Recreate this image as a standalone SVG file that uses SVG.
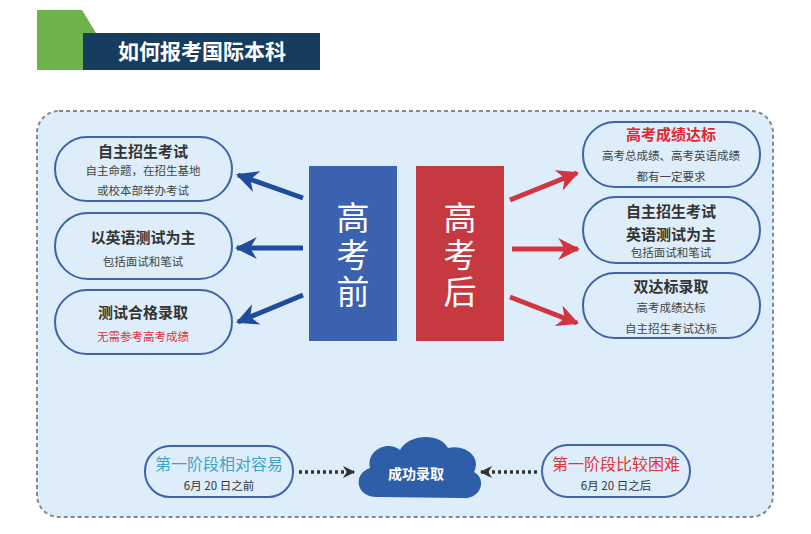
<svg xmlns="http://www.w3.org/2000/svg" width="811" height="534" viewBox="0 0 811 534">
<defs>
<style>
text{font-family:"Noto Sans CJK SC","Noto Sans",sans-serif;text-anchor:middle}
.pill{fill:#ddeefa;stroke:#3d63a8;stroke-width:2}
.t{font-size:15px;font-weight:bold;fill:#333}
.s{font-size:11.5px;fill:#444}
.big{font-size:33px;fill:#fff;writing-mode:vertical-rl;letter-spacing:4px}
.blu{stroke:#1f4d9c;stroke-width:5;fill:none}
.red{stroke:#d2353f;stroke-width:5;fill:none}
.dot{stroke:#333;stroke-width:3.5;stroke-dasharray:3 3;fill:none}
</style>
<marker id="ab" viewBox="0 0 10 10" refX="9" refY="5" markerWidth="4.4" markerHeight="4.4" orient="auto"><path d="M0,0 L10,5 L0,10 L3,5 Z" fill="#1f4d9c"/></marker>
<marker id="ar" viewBox="0 0 10 10" refX="9" refY="5" markerWidth="4.4" markerHeight="4.4" orient="auto"><path d="M0,0 L10,5 L0,10 L3,5 Z" fill="#d2353f"/></marker>
<marker id="ad" viewBox="0 0 10 10" refX="9" refY="5" markerWidth="5" markerHeight="3.5" orient="auto"><path d="M0,0 L10,5 L0,10 L3,5 Z" fill="#333"/></marker>
</defs>
<rect width="811" height="534" fill="#fff"/>
<g id="title">
<path d="M37,10 L82,10 L96,33 L96,70 L37,70 Z" fill="#6db24b"/>
<rect x="83" y="33" width="237" height="37" fill="#163d60"/>
<text x="202" y="59" style="font-size:21px;font-weight:bold;fill:#fff">如何报考国际本科</text>
</g>
<g id="panel">
<rect x="37" y="111" width="736" height="406" rx="22" fill="#ddeefa" stroke="#7f8a96" stroke-width="2" stroke-dasharray="4 3"/>
</g>
<g id="connectors">
<line class="blu" x1="303" y1="198" x2="238" y2="175" marker-end="url(#ab)"/>
<line class="blu" x1="303" y1="248" x2="237" y2="248" marker-end="url(#ab)"/>
<line class="blu" x1="303" y1="295" x2="238" y2="322" marker-end="url(#ab)"/>
<line class="red" x1="510" y1="200" x2="577" y2="173" marker-end="url(#ar)"/>
<line class="red" x1="512" y1="249" x2="578" y2="249" marker-end="url(#ar)"/>
<line class="red" x1="510" y1="297" x2="577" y2="323" marker-end="url(#ar)"/>
<line class="dot" x1="299" y1="472" x2="354" y2="472" marker-end="url(#ad)"/>
<line class="dot" x1="537" y1="472" x2="481" y2="472" marker-end="url(#ad)"/>
</g>
<g id="before">
<rect x="309" y="166" width="88" height="175" fill="#3a62ae"/>
<text class="big" x="353" y="256">高考前</text>
</g>
<g id="after">
<rect x="416" y="166" width="88" height="175" fill="#c73941"/>
<text class="big" x="460" y="256">高考后</text>
</g>
<g id="l1">
<rect class="pill" x="55" y="137" width="177" height="64" rx="32"/>
<text class="t" x="143" y="157">自主招生考试</text>
<text class="s" x="143" y="175">自主命题，在招生基地</text>
<text class="s" x="143" y="195">或校本部举办考试</text>
</g>
<g id="l2">
<rect class="pill" x="55" y="213" width="177" height="66" rx="33"/>
<text class="t" x="143" y="243">以英语测试为主</text>
<text class="s" x="143" y="266">包括面试和笔试</text>
</g>
<g id="l3">
<rect class="pill" x="55" y="290" width="177" height="64" rx="32"/>
<text class="t" x="143" y="318">测试合格录取</text>
<text class="s" x="143" y="341" style="fill:#e0323c">无需参考高考成绩</text>
</g>
<g id="r1">
<rect class="pill" x="583" y="122" width="177" height="65" rx="32"/>
<text class="t" x="671" y="140" style="fill:#e0282f">高考成绩达标</text>
<text class="s" x="671" y="160">高考总成绩、高考英语成绩</text>
<text class="s" x="671" y="181">都有一定要求</text>
</g>
<g id="r2">
<rect class="pill" x="583" y="197" width="177" height="66" rx="33"/>
<text class="t" x="671" y="217">自主招生考试</text>
<text class="t" x="671" y="240">英语测试为主</text>
<text class="s" x="671" y="257">包括面试和笔试</text>
</g>
<g id="r3">
<rect class="pill" x="583" y="273" width="177" height="65" rx="32"/>
<text class="t" x="671" y="292">双达标录取</text>
<text class="s" x="671" y="312">高考成绩达标</text>
<text class="s" x="671" y="333">自主招生考试达标</text>
</g>
<g id="b1">
<rect class="pill" x="145" y="446" width="148" height="51" rx="25"/>
<text x="219" y="470" style="font-size:16px;fill:#3fa3cc">第一阶段相对容易</text>
<text class="s" x="219" y="490" style="fill:#333">6月 20 日之前</text>
</g>
<g id="cloud">
<path d="M378,497 C356,498 352,474 370,468 C366,450 388,440 400,450 C408,434 440,432 448,448 C466,444 482,458 474,472 C488,480 480,500 462,498 Z" fill="#2f5ea8"/>
<text x="416" y="479" style="font-size:14px;font-weight:bold;fill:#fff">成功录取</text>
</g>
<g id="b2">
<rect class="pill" x="542" y="445" width="148" height="52" rx="26"/>
<text x="616" y="470" style="font-size:16px;fill:#e0323c">第一阶段比较困难</text>
<text class="s" x="616" y="490" style="fill:#333">6月 20 日之后</text>
</g>
</svg>
